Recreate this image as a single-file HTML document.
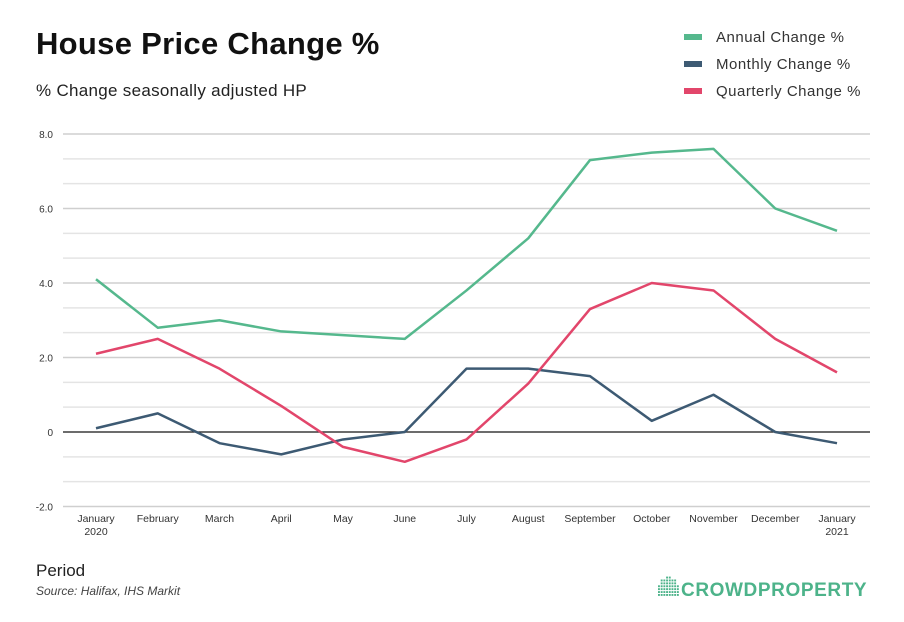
<!DOCTYPE html>
<html><head><meta charset="utf-8"><style>
body{margin:0;background:#fff;font-family:"Liberation Sans",sans-serif;}
svg{display:block}
</style></head><body>
<svg width="904" height="622" viewBox="0 0 904 622">
<text x="36" y="54" font-size="31" font-weight="bold" fill="#111" letter-spacing="0.3">House Price Change %</text>
<text x="36" y="96" font-size="17" fill="#222" letter-spacing="0.3">% Change seasonally adjusted HP</text>
<g id="legend"></g>
<g id="grid"></g><g id="series"></g><g id="xl"></g>
<text x="36" y="576" font-size="17" fill="#222">Period</text>
<text x="36" y="595" font-size="12" font-style="italic" fill="#444">Source: Halifax, IHS Markit</text>
<g>
<g fill="#4db38a" id="logoDots"></g>
<text x="681" y="596" font-size="19" font-weight="bold" fill="#4db38a" letter-spacing="0.6">CROWDPROPERTY</text>
</g>
</svg>
<script>
const categories=["January\n2020","February","March","April","May","June","July","August","September","October","November","December","January\n2021"];
const annual=[4.1,2.8,3.0,2.7,2.6,2.5,3.8,5.2,7.3,7.5,7.6,6.0,5.4];
const monthly=[0.1,0.5,-0.3,-0.6,-0.2,0.0,1.7,1.7,1.5,0.3,1.0,0.0,-0.3];
const quarterly=[2.1,2.5,1.7,0.7,-0.4,-0.8,-0.2,1.3,3.3,4.0,3.8,2.5,1.6];
const yTicks=[8,6,4,2,0,-2];
const yTickLabels=["8.0","6.0","4.0","2.0","0","-2.0"];
const NS="http://www.w3.org/2000/svg";
function mk(t,a,p){const e=document.createElementNS(NS,t);for(const k in a)e.setAttribute(k,a[k]);p.appendChild(e);return e;}
const x=i=>96+i*(837-96)/(categories.length-1);
const y=v=>432-v*37.25;
const grid=document.getElementById('grid');
for(let k=0;k<=15;k++){const v=8-k*(2/3);const l=mk('line',{x1:63,x2:870,y1:y(v),y2:y(v),stroke:k%3==0?'#cfcfcf':'#e4e4e4','stroke-width':1.5},grid);

}
const zl=mk('line',{x1:63,x2:870,y1:y(0),y2:y(0),stroke:'#222','stroke-width':1.3},grid);


yTicks.forEach((v,i)=>{const t=mk('text',{x:53,y:y(v)+4,'font-size':10,'text-anchor':'end',fill:'#333'},grid);t.textContent=yTickLabels[i];

});
const xl=document.getElementById('xl');
categories.forEach((c,i)=>{c.split("\n").forEach((s,j)=>{const t=mk('text',{x:x(i),y:522+j*13,'font-size':10.5,'text-anchor':'middle',fill:'#333'},xl);t.textContent=s;

});});
const ser=[["annual-series",annual,"#55b88d","Annual Change %"],["monthly-series",monthly,"#3d5a73","Monthly Change %"],["quarterly-series",quarterly,"#e2466b","Quarterly Change %"]];
const sg=document.getElementById('series'),lg=document.getElementById('legend');
ser.forEach((s,k)=>{const p=mk('polyline',{points:s[1].map((v,i)=>x(i)+','+y(v)).join(' '),fill:'none',stroke:s[2],'stroke-width':2.5,'stroke-linejoin':'round'},sg);


const ly=37+k*27;
const r=mk('rect',{x:684,y:ly-3,width:18,height:6,fill:s[2]},lg);


const t=mk('text',{x:716,y:ly+5,'font-size':15,fill:'#333','letter-spacing':0.5},lg);t.textContent=s[3];

});
const ld=document.getElementById('logoDots');
const hs=[4,6,6,7,7,6,6,4];
hs.forEach((h,c)=>{for(let r=0;r<h;r++)mk('rect',{x:658+c*2.7,y:594-r*2.9,width:1.9,height:1.9},ld);});
</script>
</body></html>
